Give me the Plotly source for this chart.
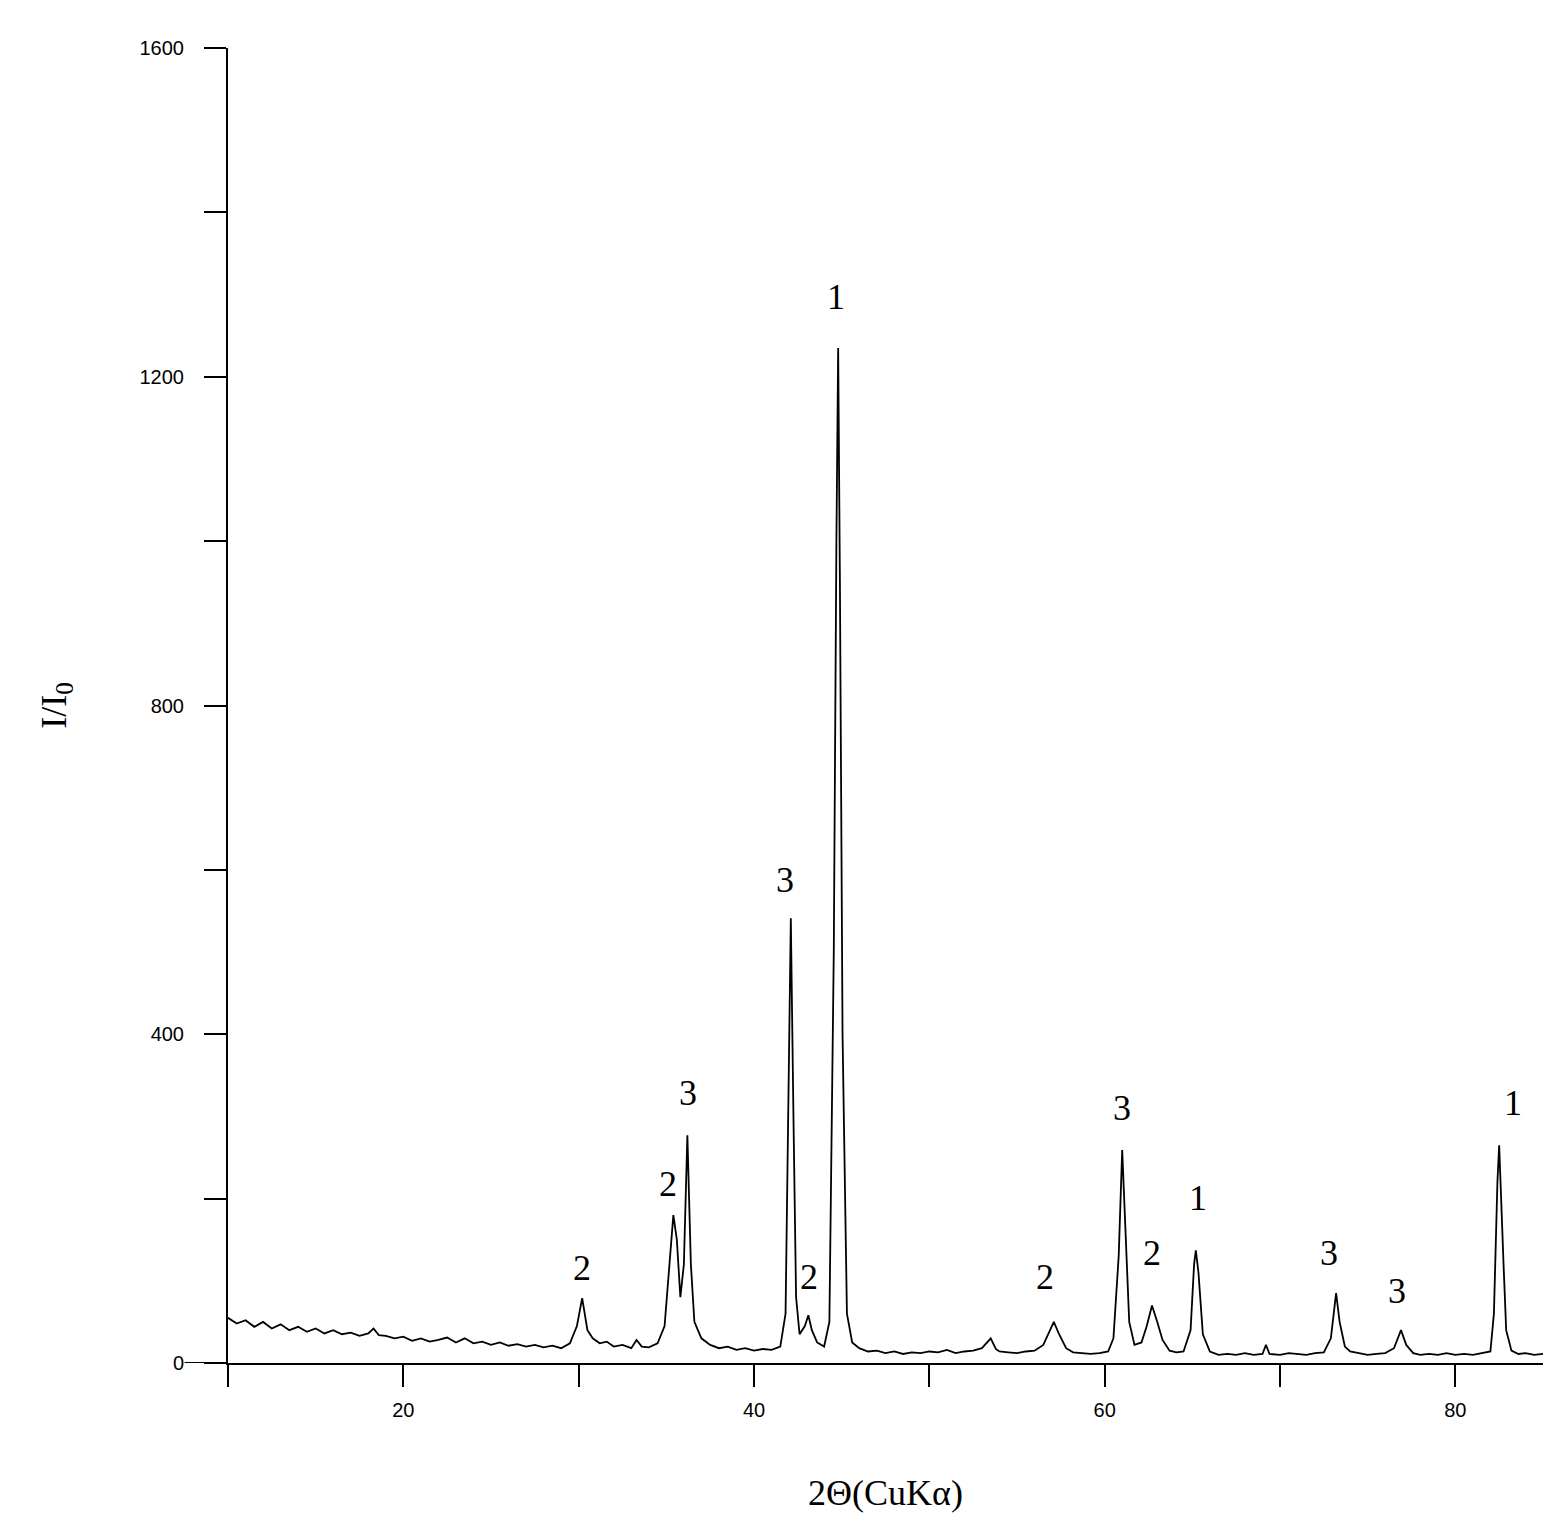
import plotly.graph_objects as go

# XRD pattern (2theta, intensity)
two_theta = [10, 10.5, 11, 11.5, 12, 12.5, 13, 13.5, 14, 14.5, 15, 15.5, 16, 16.5, 17, 17.5, 18, 18.3, 18.6, 19,
             19.5, 20, 20.5, 21, 21.5, 22, 22.5, 23, 23.5, 24, 24.5, 25, 25.5, 26, 26.5, 27, 27.5, 28, 28.5, 29,
             29.5, 29.9, 30.2, 30.5, 30.8, 31.2, 31.6, 32, 32.5, 33, 33.3, 33.6, 34, 34.5, 34.9, 35.2, 35.4, 35.6,
             35.8, 36.0, 36.2, 36.4, 36.6, 37, 37.5, 38, 38.5, 39, 39.5, 40, 40.5, 41, 41.5, 41.8, 42.0, 42.1,
             42.25, 42.4, 42.6, 42.9, 43.1, 43.3, 43.6, 44.0, 44.3, 44.55, 44.7, 44.8, 44.9, 45.05, 45.3, 45.6, 46,
             46.5, 47, 47.5, 48, 48.5, 49, 49.5, 50, 50.5, 51, 51.5, 52, 52.5, 53, 53.5, 53.8, 54, 54.5, 55, 55.5,
             56, 56.5, 56.9, 57.1, 57.4, 57.8, 58.2, 58.7, 59.2, 59.7, 60.2, 60.5, 60.8, 61.0, 61.2, 61.4, 61.7,
             62.1, 62.4, 62.7, 63.0, 63.3, 63.7, 64.1, 64.5, 64.9, 65.1, 65.2, 65.35, 65.6, 66, 66.5, 67, 67.5, 68,
             68.5, 69, 69.2, 69.4, 70, 70.5, 71, 71.5, 72, 72.5, 72.9, 73.2, 73.4, 73.7, 74, 74.5, 75, 75.5, 76,
             76.5, 76.9, 77.2, 77.6, 78, 78.5, 79, 79.5, 80, 80.5, 81, 81.5, 82, 82.2, 82.4, 82.5, 82.6, 82.75,
             82.9, 83.2, 83.6, 84, 84.5, 85]
intensity = [55, 48, 52, 44, 50, 42, 47, 40, 44, 38, 42, 36, 40, 35, 37, 33, 36, 42, 34, 33,
             30, 32, 27, 30, 26, 28, 31, 25, 30, 24, 26, 22, 25, 21, 23, 20, 22, 19, 21, 18,
             24, 45, 79, 40, 30, 24, 26, 20, 22, 18, 28, 20, 19, 24, 45, 120, 180, 150,
             80, 120, 277, 120, 50, 30, 22, 18, 20, 16, 18, 15, 17, 16, 20, 60, 350, 541,
             300, 80, 35, 45, 58, 40, 25, 20, 50, 500, 1000, 1235, 950, 400, 60, 25, 18,
             14, 15, 12, 14, 11, 13, 12, 14, 13, 16, 12, 14, 15, 18, 30, 17, 14, 13, 12, 14,
             15, 22, 42, 50, 35, 18, 13, 12, 11, 12, 14, 30, 130, 259, 150, 50, 22,
             25, 45, 70, 50, 28, 15, 13, 14, 40, 120, 137, 110, 35, 14, 10, 11, 10, 12,
             10, 11, 22, 11, 10, 12, 11, 10, 12, 13, 30, 85, 50, 20, 14, 12, 10, 11, 12,
             18, 40, 22, 12, 10, 11, 10, 12, 10, 11, 10, 12, 14, 60, 220, 265, 200, 120,
             40, 15, 11, 12, 10, 11]

# phase labels
label_x = [44.67, 41.77, 36.24, 35.1, 30.2, 43.13, 56.6, 61.0, 62.7, 65.3, 72.8, 76.7, 83.3]
label_y = [1297, 588, 328, 218, 116, 105, 105, 310, 134, 201, 134, 88, 316]
label_txt = ["1", "3", "3", "2", "2", "2", "2", "3", "2", "1", "3", "3", "1"]

serif = "Liberation Serif, Times New Roman, serif"

fig = go.Figure()
fig.add_trace(go.Scatter(x=two_theta, y=intensity, mode="lines",
                         line=dict(color="black", width=1.8), showlegend=False))

for x, y, t in zip(label_x, label_y, label_txt):
    fig.add_annotation(x=x, y=y, text=t, showarrow=False,
                       font=dict(family=serif, size=36, color="black"))

yt = list(range(0, 1601, 200))
fig.update_layout(
    width=1568, height=1538,
    margin=dict(l=220, r=33, t=40, b=183),
    plot_bgcolor="white", paper_bgcolor="white",
    font=dict(family="Liberation Sans, Arial, sans-serif", size=20, color="black"),
    xaxis=dict(range=[10, 85], tickvals=list(range(10, 81, 10)),
               ticktext=["", "20", "", "40", "", "60", "", "80"],
               ticks="outside", ticklen=22, tickwidth=2, tickcolor="black", ticklabelstandoff=6,
               showline=True, linecolor="black", linewidth=2, showgrid=False, zeroline=False,
               title=dict(text="2Θ(CuKα)", font=dict(family=serif, size=36), standoff=60)),
    yaxis=dict(range=[0, 1600], tickvals=yt,
               ticktext=[str(v) if v % 400 == 0 else "" for v in yt],
               ticks="outside", ticklen=22, tickwidth=2, tickcolor="black", ticklabelstandoff=16,
               showline=True, linecolor="black", linewidth=2, showgrid=False, zeroline=False,
               title=dict(text="I/I<sub>0</sub>", font=dict(family=serif, size=36), standoff=62)),
)
# x axis line extends a bit left of the y axis
fig.add_shape(type="line", xref="paper", yref="y", x0=-0.033, x1=0, y0=0, y1=0,
              line=dict(color="black", width=2))

fig.write_html("out.html")
